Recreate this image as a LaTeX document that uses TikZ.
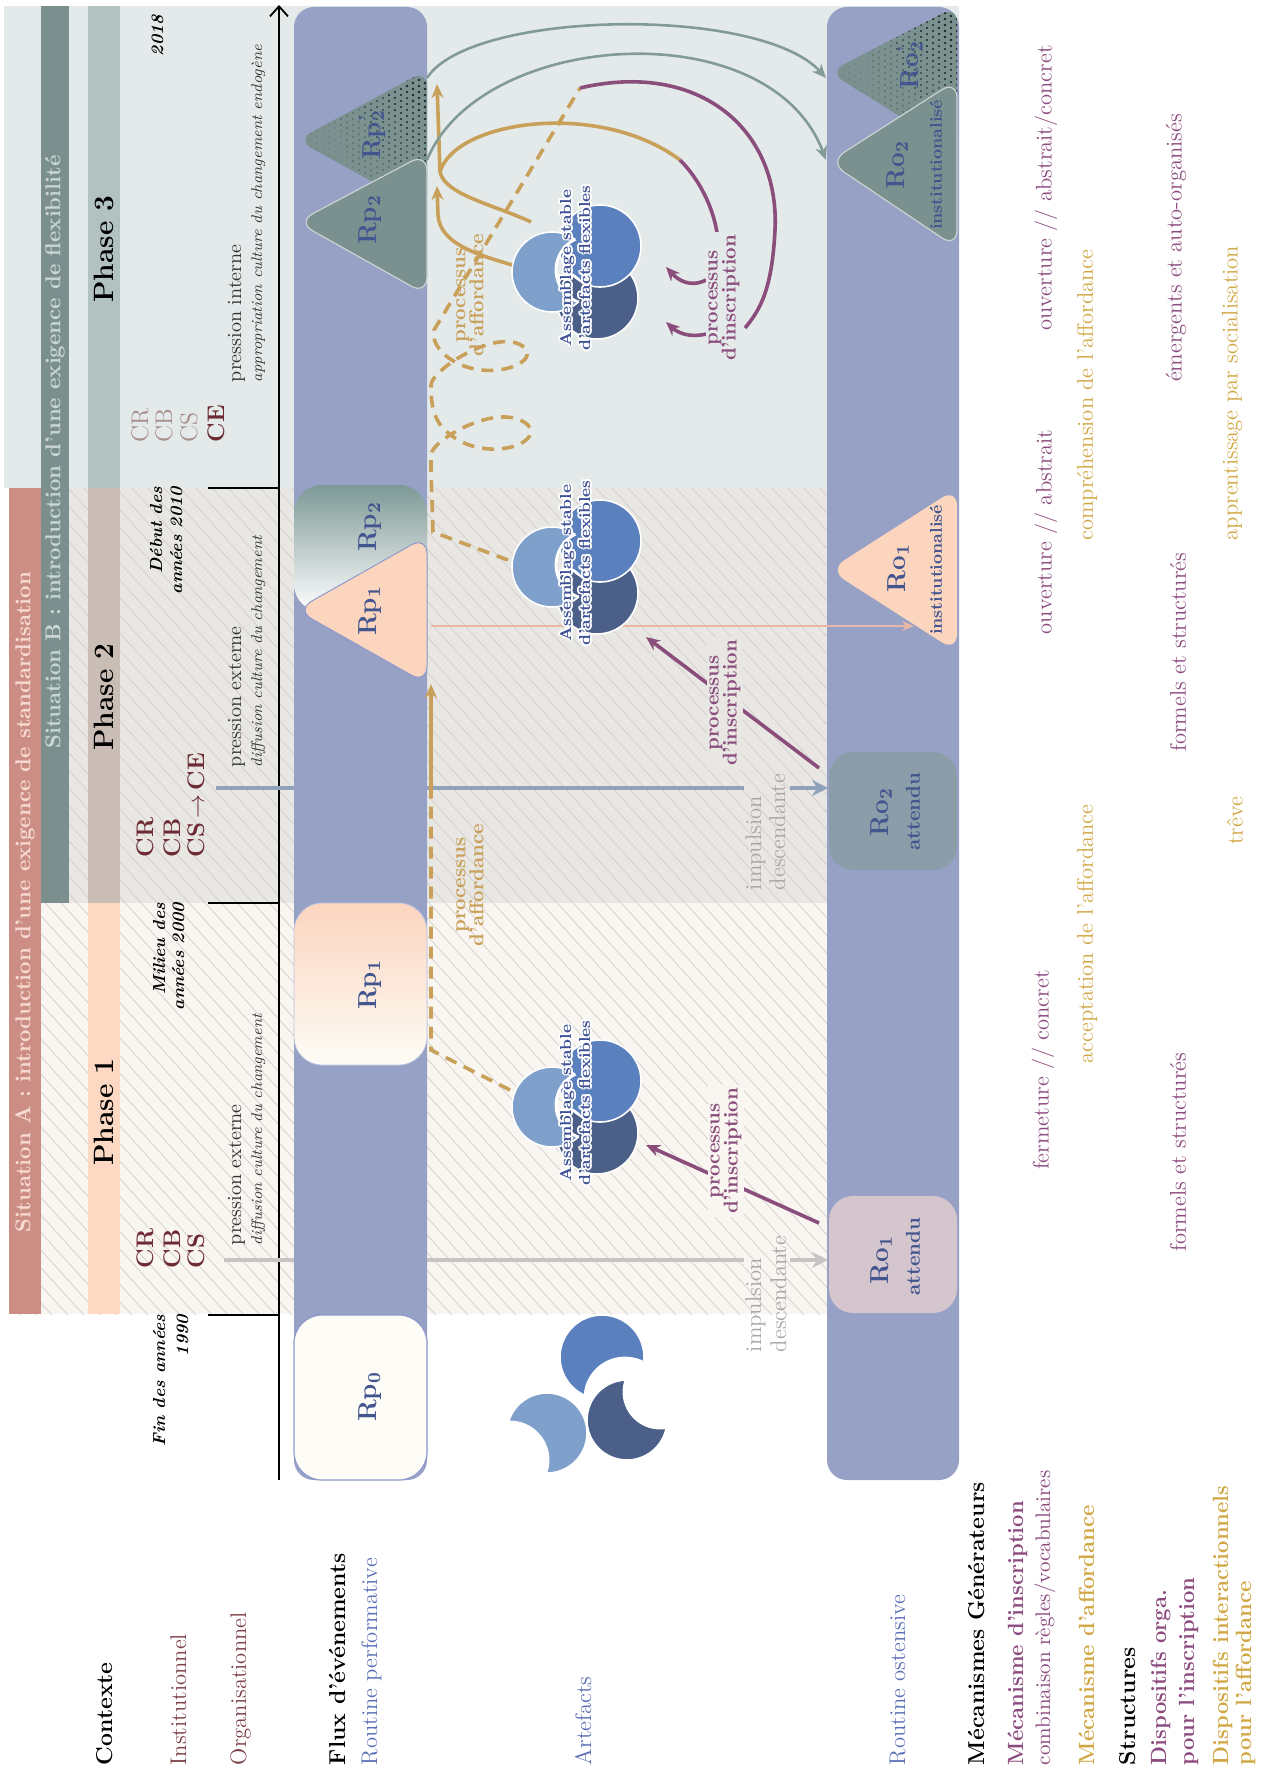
\documentclass[tikz,border=0pt]{standalone}
\usepackage{fontspec}
\usetikzlibrary{arrows.meta,calc}
\definecolor{bgthree}{HTML}{E4EAEA}
\definecolor{bgtwo}{HTML}{E8E7E3}
\definecolor{bgone}{HTML}{F9F5F0}
\definecolor{hatchc}{HTML}{D2CECA}
\definecolor{sitAc}{HTML}{CC8D84}
\definecolor{sitAt}{HTML}{F7DAD2}
\definecolor{sitBc}{HTML}{7B908E}
\definecolor{sitBt}{HTML}{C9D6D4}
\definecolor{phone}{HTML}{FDD8C3}
\definecolor{phtwo}{HTML}{C9BDB6}
\definecolor{phthree}{HTML}{B2C2C0}
\definecolor{bandc}{HTML}{97A1C5}
\definecolor{bandb}{HTML}{8E99CC}
\definecolor{tealc}{HTML}{7B918F}
\definecolor{dotc}{HTML}{1C2727}
\definecolor{peachc}{HTML}{FCD5BF}
\definecolor{creamc}{HTML}{FDFCF6}
\definecolor{tealbox}{HTML}{7D9996}
\definecolor{roatt}{HTML}{8A9DA8}
\definecolor{rooneatt}{HTML}{D4C6CC}
\definecolor{rpblue}{HTML}{43558F}
\definecolor{maroon}{HTML}{6D2A33}
\definecolor{maroonl}{HTML}{A58E89}
\definecolor{goldc}{HTML}{C8A05A}
\definecolor{purpc}{HTML}{8A4D7C}
\definecolor{tealarc}{HTML}{829B99}
\definecolor{pinkl}{HTML}{E9B6A8}
\definecolor{impa}{HTML}{C8C4C5}
\definecolor{impb}{HTML}{8FA2B9}
\definecolor{impt}{HTML}{A9A5A6}
\definecolor{legpurp}{HTML}{8C4A7E}
\definecolor{leggold}{HTML}{D1A744}
\definecolor{bluelab}{HTML}{5B6FB6}
\definecolor{orgc}{HTML}{7C4048}
\definecolor{lightblue}{HTML}{7FA0CB}
\definecolor{medblue}{HTML}{5A80BD}
\definecolor{darkblue}{HTML}{4B5F88}
\definecolor{asmblue}{HTML}{3E5196}

\tikzset{
  rot/.style={rotate=90, inner sep=0pt, outer sep=0pt},
  lbl/.style={rot, anchor=base west},
  lble/.style={rot, anchor=base east},
  fhead/.style={font=\fontsize{11.5}{13}\selectfont\bfseries},
  freg/.style={font=\fontsize{11.3}{13}\selectfont},
  fleg/.style={font=\fontsize{11}{13}\selectfont\bfseries},
  fsmall/.style={font=\fontsize{10.5}{12}\selectfont},
  ftime/.style={font=\fontsize{8.7}{10}\selectfont\bfseries\itshape},
  fphase/.style={font=\fontsize{14}{16}\selectfont\bfseries},
  fsit/.style={font=\fontsize{10.8}{12}\selectfont\bfseries},
  fcode/.style={font=\fontsize{12}{14}\selectfont\bfseries, text=maroon},
  fcodel/.style={font=\fontsize{12}{14}\selectfont, text=maroonl},
  fpres/.style={font=\fontsize{10}{12}\selectfont, text=black!80},
  fpresi/.style={font=\fontsize{7.7}{10}\selectfont\itshape, text=black!80},
  frp/.style={rot, font=\fontsize{13}{15}\selectfont\bfseries, text=rpblue},
  fatt/.style={rot, font=\fontsize{10}{12}\selectfont\bfseries, text=rpblue},
  finst/.style={rot, font=\fontsize{8.5}{10}\selectfont\bfseries, text=rpblue},
  fproc/.style={rot, align=center, font=\fontsize{10}{9}\selectfont\bfseries},
  asmt/.style={rot, align=center, font=\fontsize{8}{9.5}\selectfont\bfseries, text=asmblue},
  fimp/.style={lbl, font=\fontsize{11.3}{13}\selectfont, text=impt},
  golds/.style={draw=goldc, line width=1.8pt},
  goldd/.style={golds, dash pattern=on 6pt off 4pt},
  purp/.style={draw=purpc, line width=1.8pt},
  gtip/.style={-{Stealth[length=7pt,width=6pt]}},
  bigtip/.style={-{Stealth[length=8pt,width=8pt]}},
}

\newcommand\cresc[7]{%
  \begin{scope}[even odd rule]
    \clip (#5,#6) circle (#7) (#2-220,#3+220) rectangle (#2+220,#3-220);
    \filldraw[fill=#1, draw=white, line width=0.8pt] (#2,#3) circle (#4);
  \end{scope}
  \begin{scope}
    \clip (#2,#3) circle (#4);
    \draw[white, line width=1.4pt] (#5,#6) circle (#7);
  \end{scope}}

\newcommand\assembl[2]{%
  \begin{scope}[shift={(#1,#2)}]
    \filldraw[fill=darkblue, draw=white, line width=0.8pt] (20,-28) circle (41);
    \cresc{medblue}{23}{24}{41}{-16}{-26}{24}
    \cresc{lightblue}{-25}{-2}{40}{13}{0}{34}
  \end{scope}}

\newcommand\asmtext[3]{%
  \foreach \a in {0,30,...,330}
    \node[asmt, text=white] at ($(#2,#3)+(\a:1.8)$) {Assemblage stable\\d’artefacts flexibles};
  \node[asmt] (#1) at (#2,#3) {Assemblage stable\\d’artefacts flexibles};}

\newcommand\halftone[5]{%
  \begin{scope}
    \clip[rounded corners=8pt] (#1,#2) -- (#3,#4) -- (#3,#5) -- cycle;
    \fill[tealc] (#1-5,#4+5) rectangle (#3+5,#5-5);
    \foreach \i in {0,...,21} {\foreach \j in {0,...,25} {
      \pgfmathsetmacro\xx{#1+2+\i*6}
      \pgfmathsetmacro\yy{#4+2-\j*6-3*mod(\i,2)}
      \pgfmathsetmacro\fy{max(0,min(1,(\yy-(#5))/((#4)-(#5))))}
      \pgfmathsetmacro\rr{0.15+1.45*(\xx-#1)/(#3-#1)*(0.35+0.65*\fy)}
      \fill[dotc] (\xx,\yy) circle (\rr);
    }}
  \end{scope}}

\begin{document}
\begin{tikzpicture}[x=0.5pt,y=0.5pt]
\useasboundingbox (0,0) rectangle (1271,-1771);
\fill[white] (0,0) rectangle (1271,-1771);

% ---------- backgrounds
\fill[bgthree] (4,-6) rectangle (959,-488);
\fill[bgtwo] (9,-488) rectangle (827,-903);
\fill[bgone] (9,-903) rectangle (827,-1314);
\begin{scope}
  \clip (9,-488) rectangle (827,-1314);
  \foreach \k in {-940,-924,...,830} \draw[hatchc, line width=0.35pt] (\k,-488) -- ++(840,-924);
\end{scope}

% ---------- situation and phase bands
\fill[sitAc] (9,-488) rectangle (41,-1314);
\fill[sitBc] (41,-6) rectangle (69,-903);
\fill[phthree] (88,-6) rectangle (120,-488);
\fill[phtwo] (88,-488) rectangle (120,-903);
\fill[phone] (88,-903) rectangle (120,-1314);
\node[rot, fsit, text=sitAt] (sitA) at (25,-902) {Situation A : introduction d’une exigence de standardisation};
\node[rot, fsit, text=sitBt] (sitB) at (55,-452) {Situation B : introduction d’une exigence de flexibilité};
\node[rot, fphase] (ph3) at (104,-249) {Phase 3};
\node[rot, fphase] (ph2) at (104,-697) {Phase 2};
\node[rot, fphase] (ph1) at (104,-1112) {Phase 1};

% ---------- time axis
\draw[line width=0.9pt, -{Straight Barb[length=5pt,width=9pt]}] (279,-1480) -- (279,-5);
\foreach \yy in {488,903,1315} \draw[line width=0.9pt] (208,-\yy) -- (279,-\yy);
\node[lble, ftime] (t18) at (163,-15) {2018};
\node[lble, ftime] (t10a) at (162,-487) {Début des};
\node[lble, ftime] (t10b) at (182,-487) {années 2010};
\node[lble, ftime] (t00a) at (165,-903) {Milieu des};
\node[lble, ftime] (t00b) at (184,-903) {années 2000};
\node[lble, ftime] (t90a) at (165,-1315) {Fin des années};
\node[lble, ftime] (t90b) at (188,-1315) {1990};

% ---------- context codes
\node[lbl, fcode] (c1r) at (153,-1268) {CR};
\node[lbl, fcode] (c1b) at (180,-1268) {CB};
\node[lbl, fcode] (c1s) at (204,-1268) {CS};
\node[lbl, fcode] (c2r) at (153,-857) {CR};
\node[lbl, fcode] (c2b) at (180,-857) {CB};
\node[lbl, fcode] (c2s) at (204,-857) {CS\,$\rightarrow$\,CE};
\node[lbl, fcodel] (c3r) at (148,-442) {CR};
\node[lbl, fcodel] (c3b) at (172,-442) {CB};
\node[lbl, fcodel] (c3s) at (197,-442) {CS};
\node[lbl, fcode] (c3e) at (224,-442) {CE};
\node[lbl, fpres] (p1a) at (241,-1245) {pression externe};
\node[lbl, fpresi] (p1b) at (262,-1245) {diffusion culture du changement};
\node[lbl, fpres] (p2a) at (241,-767) {pression externe};
\node[lbl, fpresi] (p2b) at (262,-767) {diffusion culture du changement};
\node[lbl, fpres] (p3a) at (241,-382) {pression interne};
\node[lbl, fpresi] (p3b) at (262,-382) {appropriation culture du changement endogène};

% ---------- impulsion lines (behind bands)
\draw[impa, line width=1.6pt] (224,-1260) -- (744,-1260);
\draw[impa, line width=1.6pt, bigtip] (790,-1260) -- (828,-1260);
\draw[impb, line width=1.6pt] (216,-788) -- (744,-788);
\draw[impb, line width=1.6pt, bigtip] (790,-788) -- (828,-788);
\node[fimp] (imp1a) at (761,-1352) {impulsion};
\node[fimp] (imp1b) at (786,-1352) {descendante};
\node[fimp] (imp2a) at (761,-890) {impulsion};
\node[fimp] (imp2b) at (785,-890) {descendante};

% ---------- routine bands
\fill[bandc, rounded corners=10pt] (294,-7) rectangle (427,-1480);
\fill[bandc, rounded corners=10pt] (827,-7) rectangle (959,-1480);

% ---------- performative routine shapes
\filldraw[fill=creamc, draw=bandb, line width=0.6pt, rounded corners=14pt] (294,-1315) rectangle (427,-1480);
\shade[top color=peachc, middle color=peachc!40!white, bottom color=creamc, rounded corners=14pt] (294,-903) rectangle (427,-1065);
\draw[bandb!60, line width=0.4pt, rounded corners=14pt] (294,-903) rectangle (427,-1065);
\shade[top color=tealbox, bottom color=white, rounded corners=14pt] (294,-485) rectangle (427,-612);
\filldraw[fill=peachc, draw=bandb, line width=0.5pt, rounded corners=9pt] (296,-610) -- (427,-536) -- (427,-684) -- cycle;
\halftone{297}{-140}{427}{-70}{-212}
\filldraw[fill=tealc, draw=white!60!tealc, line width=0.6pt, rounded corners=9pt] (297,-222) -- (427,-153) -- (427,-295) -- cycle;

% ---------- ostensive routine shapes
\fill[rooneatt, rounded corners=12pt] (829,-1196) rectangle (957,-1313);
\fill[roatt, rounded corners=12pt] (829,-752) rectangle (957,-870);
\fill[peachc, rounded corners=9pt] (829,-570) -- (957,-488) -- (957,-652) -- cycle;
\halftone{829}{-72}{957}{-6}{-152}
\filldraw[fill=tealc, draw=white!60!tealc, line width=0.6pt, rounded corners=9pt] (829,-162) -- (957,-80) -- (957,-248) -- cycle;

% ---------- pink line
\draw[pinkl, line width=1pt, -{Stealth[length=6pt,width=5pt]}] (431,-626) -- (914,-626);

% ---------- artefacts
\assembl{577}{-1105}
\assembl{577}{-565}
\assembl{577}{-270}
\cresc{medblue}{602}{-1357}{42}{625}{-1398}{40}
\cresc{darkblue}{627}{-1420}{40}{660}{-1392}{36}
\cresc{lightblue}{547}{-1433}{40}{510}{-1460}{38}

% ---------- affordance (gold)
\draw[goldd] (510,-1090) -- (431,-1050) -- (431,-788);
\draw[golds, gtip] (431,-788) -- (431,-684);
\draw[goldd] (508,-560) -- (433,-532) -- (431,-470) -- (431,-455)
  .. controls (431,-440) and (500,-400) .. (528,-425)
  .. controls (545,-445) and (480,-465) .. (445,-430)
  .. controls (432,-418) and (431,-400) .. (431,-385)
  .. controls (431,-370) and (500,-325) .. (525,-348)
  .. controls (540,-365) and (480,-385) .. (445,-355)
  .. controls (435,-345) and (433,-340) .. (434,-330)
  -- (580,-88);
\draw[golds, gtip] (512,-265) .. controls (480,-255) and (440,-245) .. (438,-215) -- (437,-186);
\draw[golds] (531,-222) .. controls (495,-205) and (445,-195) .. (440,-172);
\draw[golds, gtip] (440,-172) -- (437,-84);
\draw[golds] (440,-172) .. controls (455,-120) and (600,-100) .. (680,-160);
\draw[purp] (680,-160) .. controls (700,-180) and (715,-210) .. (718,-240);

% ---------- inscription (purple)
\draw[purp] (580,-88) .. controls (700,-60) and (780,-130) .. (775,-230) .. controls (772,-290) and (760,-310) .. (745,-328);
\draw[purp, gtip] (706,-280) .. controls (690,-288) and (678,-280) .. (666,-267);
\draw[purp, gtip] (706,-334) .. controls (690,-338) and (678,-333) .. (666,-322);
\draw[purp, gtip] (819,-768) -- (646,-637);
\draw[purp, gtip] (819,-1223) -- (646,-1145);

% ---------- teal arcs
\draw[tealarc, line width=1.3pt, -{Stealth[length=7pt,width=6pt]}] (427,-78) .. controls (470,-10) and (760,-5) .. (826,-78);
\draw[tealarc, line width=1.3pt, -{Stealth[length=7pt,width=6pt]}] (427,-160) .. controls (480,-30) and (770,-10) .. (826,-160);

% ---------- process labels
\node[fproc, text=goldc] (aff3) at (470,-295) {processus\\d’affordance};
\node[fproc, text=goldc] (aff2) at (470,-885) {processus\\d’affordance};
\node[fproc, text=purpc, fill=bgthree, inner sep=1.5pt] (ins3) at (724,-298) {processus\\d’inscription};
\node[fproc, text=purpc, fill=bgtwo, inner sep=1.5pt] (ins2) at (725,-703) {processus\\d’inscription};
\node[fproc, text=purpc, fill=bgone, inner sep=1.5pt] (ins1) at (726,-1151) {processus\\d’inscription};

% ---------- assemblage labels
\asmtext{asm3}{575}{-268}
\asmtext{asm2}{575}{-563}
\asmtext{asm1}{575}{-1103}

% ---------- routine labels
\node[frp] (rp0) at (370,-1397) {Rp\textsubscript{0}};
\node[frp] (rp1a) at (370,-985) {Rp\textsubscript{1}};
\node[frp] (rp2a) at (370,-527) {Rp\textsubscript{2}};
\node[frp] (rp1b) at (370,-611) {Rp\textsubscript{1}};
\node[frp] (rp2p) at (372,-135) {Rp\rlap{\textsuperscript{’}}\textsubscript{2}};
\node[frp] (rp2b) at (370,-220) {Rp\textsubscript{2}};
\node[frp] (ro1a) at (881,-1260) {Ro\textsubscript{1}};
\node[fatt] (ro1at) at (913,-1257) {attendu};
\node[frp] (ro2a) at (881,-812) {Ro\textsubscript{2}};
\node[fatt] (ro2at) at (913,-812) {attendu};
\node[frp] (ro1i) at (898,-568) {Ro\textsubscript{1}};
\node[finst] (ro1it) at (936,-570) {institutionalisé};
\node[frp] (ro2p) at (910,-65) {Ro\rlap{\textsuperscript{’}}\textsubscript{2}};
\node[frp] (ro2i) at (897,-165) {Ro\textsubscript{2}};
\node[finst] (ro2it) at (936,-165) {institutionalisé};

% ---------- row labels
\node[lbl, fhead] (ctx) at (112,-1765) {Contexte};
\node[lbl, freg, text=orgc] (inst) at (186,-1765) {Institutionnel};
\node[lbl, freg, text=orgc] (orga) at (246,-1765) {Organisationnel};
\node[lbl, fhead] (flux) at (345,-1765) {Flux d’événements};
\node[lbl, freg, text=bluelab] (rperf) at (377,-1765) {Routine performative};
\node[lbl, freg, text=bluelab] (artf) at (591,-1765) {Artefacts};
\node[lbl, freg, text=bluelab] (rost) at (905,-1765) {Routine ostensive};
\node[lbl, fhead] (mecg) at (984,-1765) {Mécanismes Générateurs};
\node[lbl, fleg, text=legpurp] (mins) at (1023,-1765) {Mécanisme d’inscription};
\node[lbl, fsmall, text=legpurp] (comb) at (1050,-1765) {combinaison règles/vocabulaires};
\node[lbl, fleg, text=leggold] (maff) at (1094,-1765) {Mécanisme d’affordance};
\node[lbl, fhead] (struc) at (1135,-1765) {Structures};
\node[lbl, fleg, text=legpurp] (dorg1) at (1166,-1765) {Dispositifs orga.};
\node[lbl, fleg, text=legpurp] (dorg2) at (1194,-1765) {pour l’inscription};
\node[lbl, fleg, text=leggold] (dint1) at (1228,-1765) {Dispositifs interactionnels};
\node[lbl, fleg, text=leggold] (dint2) at (1251,-1765) {pour l’affordance};

% ---------- right legend texts
\node[rot, freg, text=legpurp] (ouv3) at (1046,-188) {ouverture // abstrait/concret};
\node[rot, freg, text=legpurp] (ouv2) at (1046,-532) {ouverture // abstrait};
\node[rot, freg, text=legpurp] (ferm) at (1043,-1070) {fermeture // concret};
\node[rot, freg, text=leggold] (comp) at (1087,-395) {compréhension de l’affordance};
\node[rot, freg, text=leggold] (acc) at (1087,-934) {acceptation de l’affordance};
\node[rot, freg, text=legpurp] (emer) at (1176,-248) {émergents et auto-organisés};
\node[rot, freg, text=legpurp] (form2) at (1178,-652) {formels et structurés};
\node[rot, freg, text=legpurp] (form1) at (1178,-1152) {formels et structurés};
\node[rot, freg, text=leggold] (appr) at (1232,-393) {apprentissage par socialisation};
\node[rot, freg, text=leggold] (treve) at (1235,-821) {trêve};
\end{tikzpicture}
\end{document}
